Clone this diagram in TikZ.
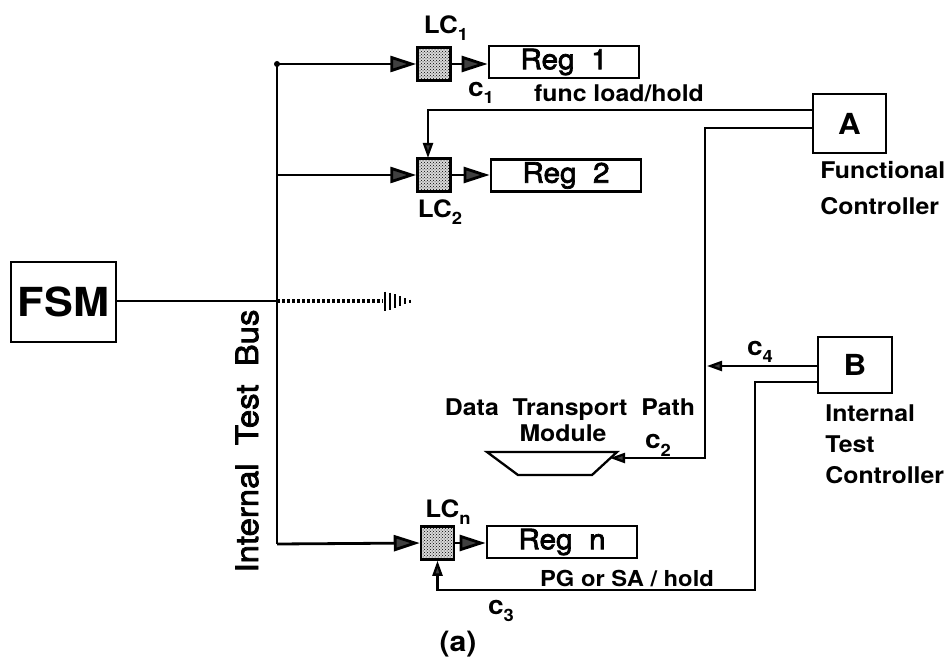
\documentclass[tikz,border=0pt]{standalone}
\usepackage{fontspec}
\setmainfont{TeX Gyre Heros}[FakeStretch=1.08]
\newfontfamily\medfont{TeX Gyre Heros}[FakeStretch=1.06,FakeBold=2.5]
\usetikzlibrary{arrows.meta,patterns}
\newcommand\lsub[1]{\raisebox{-0.55ex}{\fontsize{17}{17}\selectfont #1}}
\definecolor{tipgray}{gray}{0.25}
\begin{document}
\begin{tikzpicture}[x=1pt,y=-1pt,line width=2.8pt,
  blk/.style={draw,line width=2.8pt,inner sep=0pt},
  lcbox/.style={draw,line width=2.5pt,fill=black!15,postaction={pattern=crosshatch dots,pattern color=black},minimum width=33pt,minimum height=33pt,inner sep=0pt},
  regbox/.style={blk,minimum width=150pt,minimum height=32pt,font=\fontsize{28}{28}\medfont},
  ctrl/.style={blk,font=\fontsize{29}{29}\selectfont\bfseries},
  lbl/.style={inner sep=0pt,font=\fontsize{23}{23}\selectfont\bfseries},
  clbl/.style={inner sep=0pt,font=\fontsize{26}{26}\selectfont\bfseries},
  big/.style={-{Triangle[length=26pt,width=16pt,fill=tipgray]}},
  small/.style={-{Triangle[length=15pt,width=10pt,fill=tipgray]}},
  wire/.style={line width=2.3pt}]
\useasboundingbox (0,0) rectangle (944,668);
% blocks
\node[blk,minimum width=105pt,minimum height=80pt,font=\fontsize{40}{40}\selectfont\bfseries] (fsm) at (63.5,302) {FSM};
\node[lcbox] (lc1) at (434,64) {};
\node[lcbox] (lc2) at (434,175) {};
\node[lcbox] (lcn) at (437.5,543) {};
\node[regbox] (reg1) at (564,62) {Reg\ \ 1};
\node[regbox] (reg2) at (566,175.5) {Reg\ \ 2};
\node[regbox] (regn) at (562,542) {Reg\ \ n};
\node[ctrl,minimum width=73pt,minimum height=59pt] (A) at (849.5,123.5) {A};
\node[ctrl,minimum width=74pt,minimum height=56pt] (B) at (855,365) {B};
% trapezoid module
\draw[wire] (487,452) -- (617,452) -- (592,475) -- (518,475) -- cycle;
\coordinate (dtp) at (610,458);
% bus
\coordinate (bt) at (277,64);
\coordinate (bm) at (277,301);
\coordinate (b2) at (277,175);
\coordinate (bb) at (277,544);
\draw (fsm.east |- bm) -- (bm);
\draw (bt) -- (bb);
\fill (bt) circle (3pt);
\draw[big] (bt) -- (lc1.west);
\draw[big] (b2) -- (lc2.west);
\draw[big] (bb) -- (lcn.west);
\draw[big] (lc1.east) -- (reg1.west |- lc1.east);
\draw[big] (lc2.east) -- (reg2.west |- lc2.east);
\draw[big] (lcn.east) -- (regn.west |- lcn.east);
% dotted continuation
\draw[line width=3.5pt,dash pattern=on 2.5pt off 2.5pt] (bm) -- (383,301);
\foreach \x/\h in {385/19,390/17,395/14,400/10,405/6,410/3}
  \draw[line width=2.6pt] (\x,301-\h/2) -- (\x,301+\h/2);
% controller A wires
\draw[wire,small] (A.west |- 0,110) -- (428,110) -- (428,158);
\draw[wire,small] (A.west |- 0,128) -- (705,128) -- (705,458) -- (dtp);
% controller B wires
\draw[wire,small] (B.west |- 0,366) -- (707,366);
\draw[wire,small] (B.west |- 0,382) -- (755,382) -- (755,590) -- (lcn.south |- 0,590) -- (lcn.south);
% labels
\node[lbl,font=\fontsize{24}{24}\selectfont\bfseries] at (446,28) {LC\lsub{1}};
\node[lbl,font=\fontsize{24}{24}\selectfont\bfseries] at (440,212) {LC\lsub{2}};
\node[lbl,font=\fontsize{24}{24}\selectfont\bfseries] at (448,512) {LC\lsub{n}};
\node[clbl] at (481,93) {c\lsub{1}};
\node[lbl] at (619,93) {func load/hold};
\node[clbl] at (658,445) {c\lsub{2}};
\node[clbl] at (501,611) {c\lsub{3}};
\node[clbl] at (760,352) {c\lsub{4}};
\node[lbl,font=\fontsize{22}{22}\selectfont\bfseries] at (627,578) {PG or SA / hold};
\node[inner sep=0pt,font=\fontsize{28}{28}\selectfont\bfseries] at (458,644) {(a)};
\node[lbl,anchor=west] at (819,170) {Functional};
\node[lbl,anchor=west] at (819,206) {Controller};
\node[lbl,anchor=west] at (824,413) {Internal};
\node[lbl,anchor=west] at (824,444) {Test};
\node[lbl,anchor=west] at (824,475) {Controller};
\node[lbl] at (570,410) {Data\ \ Transport\ \ Path};
\node[lbl] at (563,433) {Module};
\node[inner sep=0pt,rotate=90,font=\fontsize{31}{31}\medfont] at (247,441) {Internal\ \ Test\ \ Bus};
\end{tikzpicture}
\end{document}
